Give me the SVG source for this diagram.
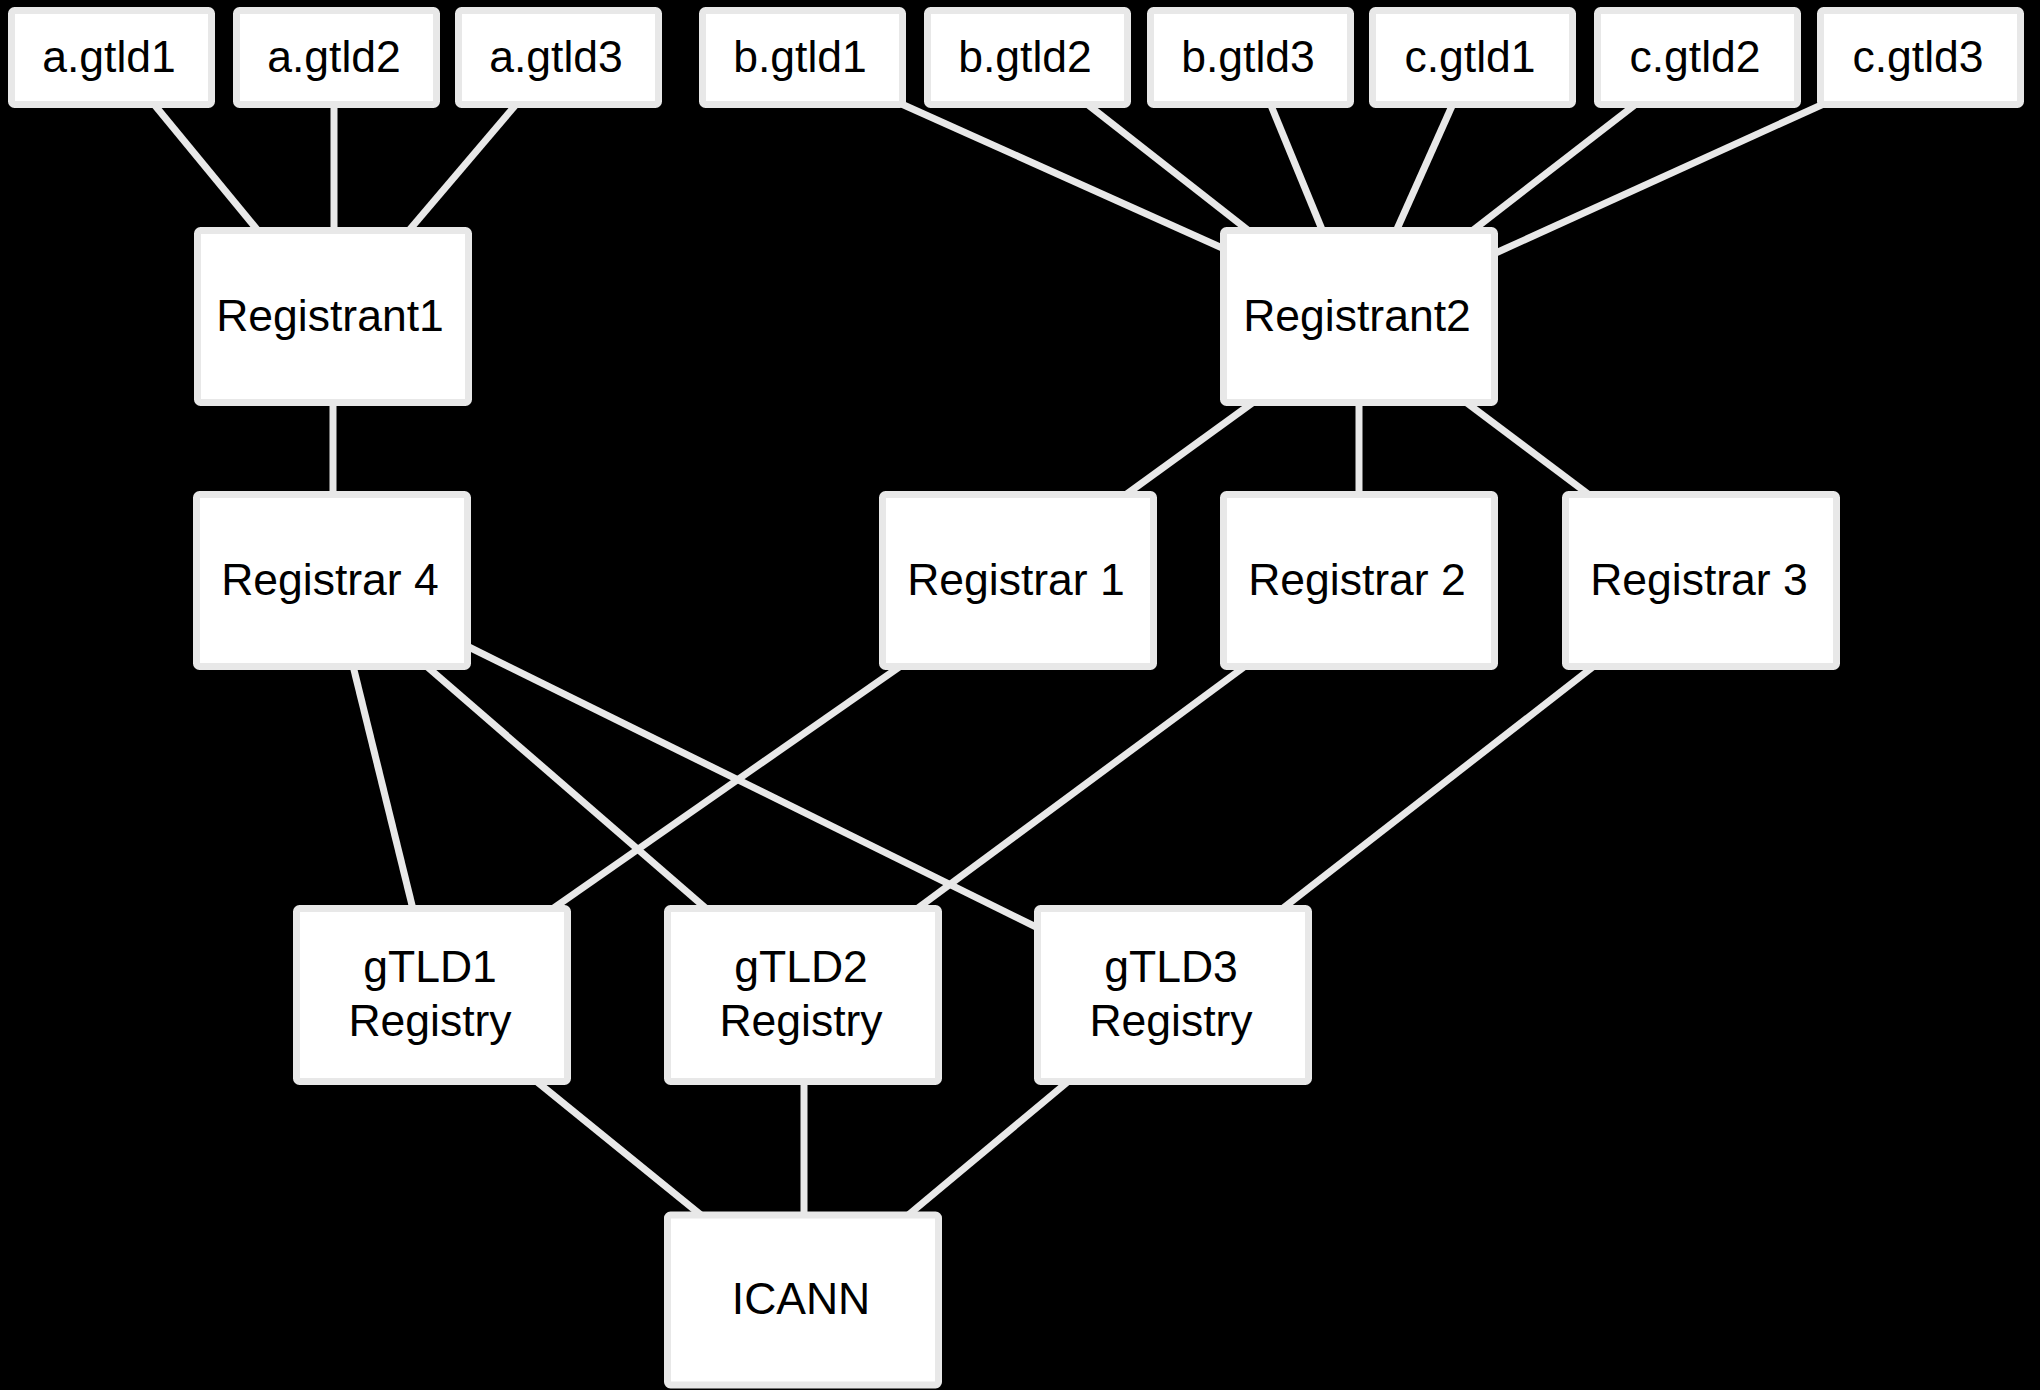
<svg xmlns="http://www.w3.org/2000/svg" width="2040" height="1390" viewBox="0 0 2040 1390">
<style>
.bg{fill:#000}
.box{fill:#fff;stroke:#e8e8e8;stroke-width:7}
.lbl{font-family:"Liberation Sans",Arial,Helvetica,sans-serif;font-size:44.5px;fill:#000;text-anchor:middle}
#connectors line{stroke:#e8e8e8;stroke-width:7;stroke-linecap:butt}
</style>
<rect class="bg" x="0" y="0" width="2040" height="1390"/>
<g id="connectors">
<line x1="151.9" y1="101.8" x2="260.1" y2="233.2"/>
<line x1="334" y1="100" x2="334" y2="235"/>
<line x1="518.2" y1="101.9" x2="406.8" y2="233.1"/>
<line x1="898.7" y1="102.7" x2="1227.3" y2="250.3"/>
<line x1="1085.7" y1="103.1" x2="1250.3" y2="231.9"/>
<line x1="1269" y1="100.6" x2="1324" y2="234.4"/>
<line x1="1454.3" y1="100.7" x2="1394.7" y2="234.3"/>
<line x1="1637.3" y1="103.1" x2="1470.7" y2="231.9"/>
<line x1="1826.3" y1="102.7" x2="1490.7" y2="255.3"/>
<line x1="333" y1="398" x2="333" y2="499"/>
<line x1="1254.5" y1="401.3" x2="1124.5" y2="495.7"/>
<line x1="1359" y1="398" x2="1359" y2="499"/>
<line x1="1464.6" y1="401.2" x2="1590.4" y2="495.8"/>
<line x1="352.1" y1="662.2" x2="413.9" y2="912.8"/>
<line x1="425" y1="664.8" x2="708" y2="910.2"/>
<line x1="463.8" y1="644.5" x2="1041.2" y2="929.5"/>
<line x1="901.6" y1="665.4" x2="551.4" y2="909.6"/>
<line x1="1246.4" y1="665.2" x2="915.6" y2="909.8"/>
<line x1="1595.3" y1="665.1" x2="1280.7" y2="909.9"/>
<line x1="534.8" y1="1080" x2="702.2" y2="1216"/>
<line x1="804" y1="1077" x2="804" y2="1219"/>
<line x1="1070.1" y1="1079.9" x2="906.9" y2="1216.1"/>
</g>
<g id="a-gtld1"><rect class="box" x="11.5" y="10.5" width="200" height="94" rx="3"/><text class="lbl" x="109" y="72">a.gtld1</text></g>
<g id="a-gtld2"><rect class="box" x="236.5" y="10.5" width="200" height="94" rx="3"/><text class="lbl" x="334" y="72">a.gtld2</text></g>
<g id="a-gtld3"><rect class="box" x="458.5" y="10.5" width="200" height="94" rx="3"/><text class="lbl" x="556" y="72">a.gtld3</text></g>
<g id="b-gtld1"><rect class="box" x="702.5" y="10.5" width="200" height="94" rx="3"/><text class="lbl" x="800" y="72">b.gtld1</text></g>
<g id="b-gtld2"><rect class="box" x="927.5" y="10.5" width="200" height="94" rx="3"/><text class="lbl" x="1025" y="72">b.gtld2</text></g>
<g id="b-gtld3"><rect class="box" x="1150.5" y="10.5" width="200" height="94" rx="3"/><text class="lbl" x="1248" y="72">b.gtld3</text></g>
<g id="c-gtld1"><rect class="box" x="1372.5" y="10.5" width="200" height="94" rx="3"/><text class="lbl" x="1470" y="72">c.gtld1</text></g>
<g id="c-gtld2"><rect class="box" x="1597.5" y="10.5" width="200" height="94" rx="3"/><text class="lbl" x="1695" y="72">c.gtld2</text></g>
<g id="c-gtld3"><rect class="box" x="1820.5" y="10.5" width="200" height="94" rx="3"/><text class="lbl" x="1918" y="72">c.gtld3</text></g>
<g id="registrant1"><rect class="box" x="197.5" y="230.5" width="271" height="172" rx="3"/><text class="lbl" x="330" y="331">Registrant1</text></g>
<g id="registrant2"><rect class="box" x="1223.5" y="230.5" width="271" height="172" rx="3"/><text class="lbl" x="1357" y="331">Registrant2</text></g>
<g id="registrar4"><rect class="box" x="196.5" y="494.5" width="271" height="172" rx="3"/><text class="lbl" x="330" y="595">Registrar 4</text></g>
<g id="registrar1"><rect class="box" x="882.5" y="494.5" width="271" height="172" rx="3"/><text class="lbl" x="1016" y="595">Registrar 1</text></g>
<g id="registrar2"><rect class="box" x="1223.5" y="494.5" width="271" height="172" rx="3"/><text class="lbl" x="1357" y="595">Registrar 2</text></g>
<g id="registrar3"><rect class="box" x="1565.5" y="494.5" width="271" height="172" rx="3"/><text class="lbl" x="1699" y="595">Registrar 3</text></g>
<g id="gtld1-registry"><rect class="box" x="296.5" y="908.5" width="271" height="173" rx="3"/><text class="lbl" x="430" y="982">gTLD1</text><text class="lbl" x="430" y="1036">Registry</text></g>
<g id="gtld2-registry"><rect class="box" x="667.5" y="908.5" width="271" height="173" rx="3"/><text class="lbl" x="801" y="982">gTLD2</text><text class="lbl" x="801" y="1036">Registry</text></g>
<g id="gtld3-registry"><rect class="box" x="1037.5" y="908.5" width="271" height="173" rx="3"/><text class="lbl" x="1171" y="982">gTLD3</text><text class="lbl" x="1171" y="1036">Registry</text></g>
<g id="icann"><rect class="box" x="667.5" y="1215" width="271" height="170" rx="3"/><text class="lbl" x="801" y="1314">ICANN</text></g>
</svg>
